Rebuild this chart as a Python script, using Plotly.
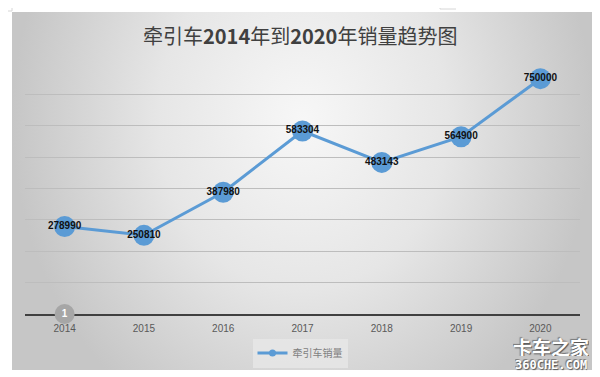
import plotly.graph_objects as go

years = ["2014", "2015", "2016", "2017", "2018", "2019", "2020"]
sales = [278990, 250810, 387980, 583304, 483143, 564900, 750000]
series_name = "牵引车销量"
title_text = "牵引车<b>2014</b>年到<b>2020</b>年销量趋势图"
badge_text = "1"

OFF = 8  # page body margin
W, H = 600 - OFF, 377 - OFF
L, R, T, B = 12 - OFF, 7, 12 - OFF, 7
pw, ph = W - L - R, H - T - B

def px(x):
    return (x - OFF - L) / pw

def py(y):
    return (H - B - (y - OFF)) / ph

blue = "#5B9BD5"

fig = go.Figure()

# background gradient (own subplot covering the chart area)
fig.add_trace(go.Scatter(
    x=[0, 1, 1, 0, 0], y=[-0.25, -0.25, 1.65, 1.65, -0.25],
    xaxis="x", yaxis="y", mode="lines", line=dict(width=0),
    fill="toself",
    fillgradient=dict(type="radial", colorscale=[[0, "#f7f7f7"], [0.5, "#e6e6e6"], [1, "#c6c6c6"]]),
    hoverinfo="skip", showlegend=False,
))

# main line
fig.add_trace(go.Scatter(
    x=years, y=sales, xaxis="x2", yaxis="y2",
    mode="lines+markers+text",
    line=dict(color=blue, width=3),
    marker=dict(size=21, color=blue),
    texttemplate="%{y:d}", textposition="middle center",
    textfont=dict(family="Liberation Sans", size=10, color="#111111", weight="bold"),
    cliponaxis=False, showlegend=False, name=series_name,
))

# legend proxy
fig.add_trace(go.Scatter(
    x=[None], y=[None], xaxis="x2", yaxis="y2",
    mode="lines+markers", name=series_name,
    line=dict(color=blue, width=3), marker=dict(size=7, color=blue),
))

# badge on the axis
fig.add_trace(go.Scatter(
    x=[years[0]], y=[0], xaxis="x2", yaxis="y2",
    mode="markers+text", text=[badge_text], textposition="middle center",
    marker=dict(size=20, color="#a6a6a6"),
    textfont=dict(family="Liberation Sans", size=10, color="white", weight="bold"),
    cliponaxis=False, showlegend=False, hoverinfo="skip",
))

fig.update_layout(
    width=W, height=H,
    margin=dict(l=L, r=R, t=T, b=B),
    paper_bgcolor="white", plot_bgcolor="rgba(0,0,0,0)",
    xaxis=dict(domain=[0, 1], range=[0, 1], visible=False, fixedrange=True),
    yaxis=dict(domain=[0, 1], range=[0, 1], visible=False, fixedrange=True),
    xaxis2=dict(domain=[px(25), px(580)], anchor="y2", type="category",
                range=[-0.5, 6.5], showgrid=False, showline=True,
                linecolor="#404040", linewidth=1.5, ticks="", layer="below traces",
                tickfont=dict(family="Liberation Sans", size=10, color="#595959"),
                ticklabelstandoff=4),
    yaxis2=dict(domain=[py(314), py(63)], anchor="x2", range=[0, 800000],
                dtick=100000, showgrid=True, gridcolor="#bdbdbd", gridwidth=1,
                showticklabels=False, zeroline=False, showline=False, ticks=""),
    legend=dict(orientation="h", x=px(300), y=py(353), xanchor="center", yanchor="middle",
                bgcolor="rgba(232,232,232,0.75)",
                font=dict(family="Noto Sans CJK SC", size=10, color="#7f7f7f"),
                itemwidth=30),
    showlegend=True,
)

fig.add_annotation(text=title_text, xref="paper", yref="paper", x=px(300), y=py(35),
                   showarrow=False, xanchor="center", yanchor="middle",
                   font=dict(family="Noto Sans CJK SC", size=20, color="#404040"))

fig.add_annotation(text="<b>卡车之家</b>", xref="paper", yref="paper", x=px(551), y=py(346),
                   showarrow=False, xanchor="center", yanchor="middle", height=20,
                   font=dict(family="Noto Sans CJK SC", size=19, color="white",
                             shadow="1px 1px 1px #555, -1px -1px 1px #777"))
fig.add_annotation(text="<b>360CHE.COM</b>", xref="paper", yref="paper", x=px(551), y=py(365),
                   showarrow=False, xanchor="center", yanchor="middle", height=12,
                   font=dict(family="DejaVu Sans Mono", size=12, color="white",
                             shadow="1px 1px 1px #555, -1px -1px 1px #777"))

# document corner marks
mark = dict(color="#d6d6d6", width=1)
for x0, y0, x1, y1 in [(12, 8, 12, 11), (8, 11, 12, 11), (440, 8, 440, 9), (440, 9, 456, 9)]:
    fig.add_shape(type="line", xref="paper", yref="paper",
                  x0=px(x0), y0=py(y0), x1=px(x1), y1=py(y1), line=mark)

fig.write_html("out.html")
